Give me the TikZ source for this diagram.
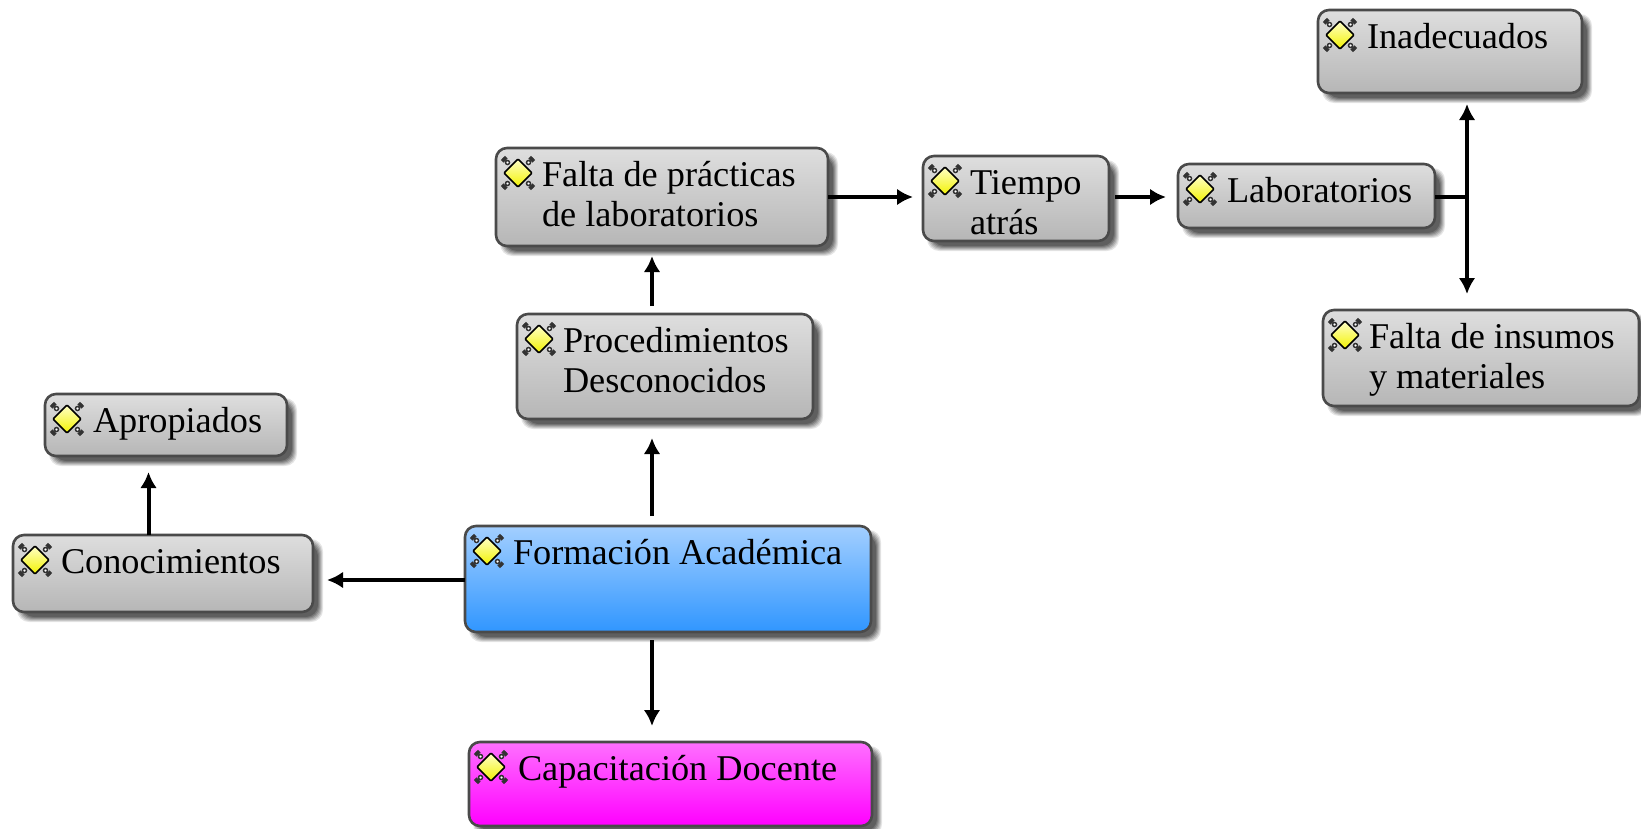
\documentclass[tikz,border=0pt]{standalone}
\usepackage{fontspec}
\setmainfont{Liberation Serif}
\usetikzlibrary{arrows.meta}
\newlength{\pxu}\setlength{\pxu}{0.75pt}
\tikzset{
  x=0.75pt,y=-0.75pt,
  conn/.style={line width=3pt,black},
  arr/.style={conn,-{Latex[length=12pt,width=12.5pt]}},
  graybox/.style={top color=boxgrayT,bottom color=boxgrayB},
  bluebox/.style={top color=boxblueT,bottom color=boxblueB},
  magbox/.style={top color=boxmagT,bottom color=boxmagB},
  cardbox/.style={draw=boxedge,line width=1.95pt,rounded corners=8.25pt,inner sep=0pt,outer sep=0pt,anchor=north west},
}
\definecolor{boxgrayT}{HTML}{DEDEDE}
\definecolor{boxgrayB}{HTML}{B6B6B6}
\definecolor{boxblueT}{HTML}{A3CFFF}
\definecolor{boxblueB}{HTML}{3096FF}
\definecolor{boxmagT}{HTML}{FF70FF}
\definecolor{boxmagB}{HTML}{FF00FF}
\definecolor{boxedge}{HTML}{4A4A4A}
\definecolor{gemT}{HTML}{FFFFC8}
\definecolor{gemB}{HTML}{F2F200}
% #1 name, #2 x1, #3 y1, #4 x2, #5 y2, #6 style, #7 text indent, #8 text
\newcommand{\cardnode}[8]{%
  \foreach \d/\o in {3/.10,2/.12,1/.14,0/.16,-1/.18,-2/.2}{
    \fill[black,opacity=\o,rounded corners=9pt]
      ({#2+7-\d},{#3+7-\d}) rectangle ({#4+7+\d},{#5+7+\d});
  }
  \pgfmathsetlengthmacro{\cardw}{(#4-#2)*0.75}%
  \pgfmathsetlengthmacro{\cardh}{(#5-#3)*0.75}%
  \node[cardbox,#6] (#1) at (#2,#3)
    {\parbox[c][\cardh][t]{\cardw}{\leftskip=#7\pxu\rightskip=0pt plus 1fil\parindent=0pt
      \fontsize{27.2pt}{30.6pt}\selectfont\rule{0pt}{38\pxu}#8}};
  \pic at ({#2+22},{#3+25}) {gem};
}
\tikzset{gem/.pic={
  \foreach \sx in {-1,1}\foreach \sy in {-1,1}{
    \draw[black!80,line width=1.1pt,fill=white] ({\sx*10.5},{\sy*10.5}) circle (2);
    \draw[black!80,line width=1.1pt,fill=white] ({\sx*14.5},{\sy*13}) circle (1.5);
    \draw[black!80,line width=1.1pt,fill=white] ({\sx*13},{\sy*14.5}) circle (1.5);
  }
  \draw[black,line width=1.2pt,top color=gemT,bottom color=gemB,rounded corners=0.75pt]
    (0,-14) -- (14,0) -- (0,14) -- (-14,0) -- cycle;
}}
\begin{document}
\begin{tikzpicture}
\useasboundingbox (0,0) rectangle (1641,828);
\cardnode{inad}{1318}{10}{1582}{93}{graybox}{49}{Inadecuados}
\cardnode{falta}{496}{148}{828}{246}{graybox}{46}{Falta de prácticas\\de laboratorios}
\cardnode{tiempo}{923}{156}{1109}{241}{graybox}{47}{Tiempo\\atrás}
\cardnode{lab}{1178}{164}{1435}{228}{graybox}{49}{Laboratorios}
\cardnode{insumos}{1323}{310}{1639}{406}{graybox}{46}{Falta de insumos\\y materiales}
\cardnode{proc}{517}{314}{813}{419}{graybox}{46}{Procedimientos\\Desconocidos}
\cardnode{aprop}{45}{394}{287}{456}{graybox}{48}{Apropiados}
\cardnode{conoc}{13}{535}{313}{612}{graybox}{48}{Conocimientos}
\cardnode{form}{465}{526}{871}{632}{bluebox}{48}{Formación Académica}
\cardnode{capa}{469}{742}{872}{826}{magbox}{49}{Capacitación Docente}
\coordinate (vm) at (652,0);
\coordinate (vr) at (1467,0);
\coordinate (vl) at (148.5,0);
\coordinate (hlab) at (0,197);
\coordinate (hform) at (0,580);
\coordinate (jn) at (vr |- hlab);
\draw[arr,shorten <=6pt,shorten >=12pt] (form.south -| vm) -- (capa.north -| vm);
\draw[arr,shorten <=7.5pt,shorten >=14.25pt] (form.north -| vm) -- (proc.south -| vm);
\draw[arr,shorten <=6pt,shorten >=7.5pt] (proc.north -| vm) -- (falta.south -| vm);
\draw[arr,shorten >=7.5pt] (falta.east |- hlab) -- (tiempo.west |- hlab);
\draw[arr,shorten <=4.5pt,shorten >=9pt] (tiempo.east |- hlab) -- (lab.west |- hlab);
\draw[conn] (lab.east |- hlab) -- (jn);
\draw[arr,shorten >=8.25pt] (jn) -- (inad.south -| vr);
\draw[arr,shorten >=12pt] (jn) -- (insumos.north -| vr);
\draw[arr,shorten >=10.5pt] (form.west |- hform) -- (conoc.east |- hform);
\draw[arr,shorten >=12pt] (conoc.north -| vl) -- (aprop.south -| vl);
\end{tikzpicture}
\end{document}
